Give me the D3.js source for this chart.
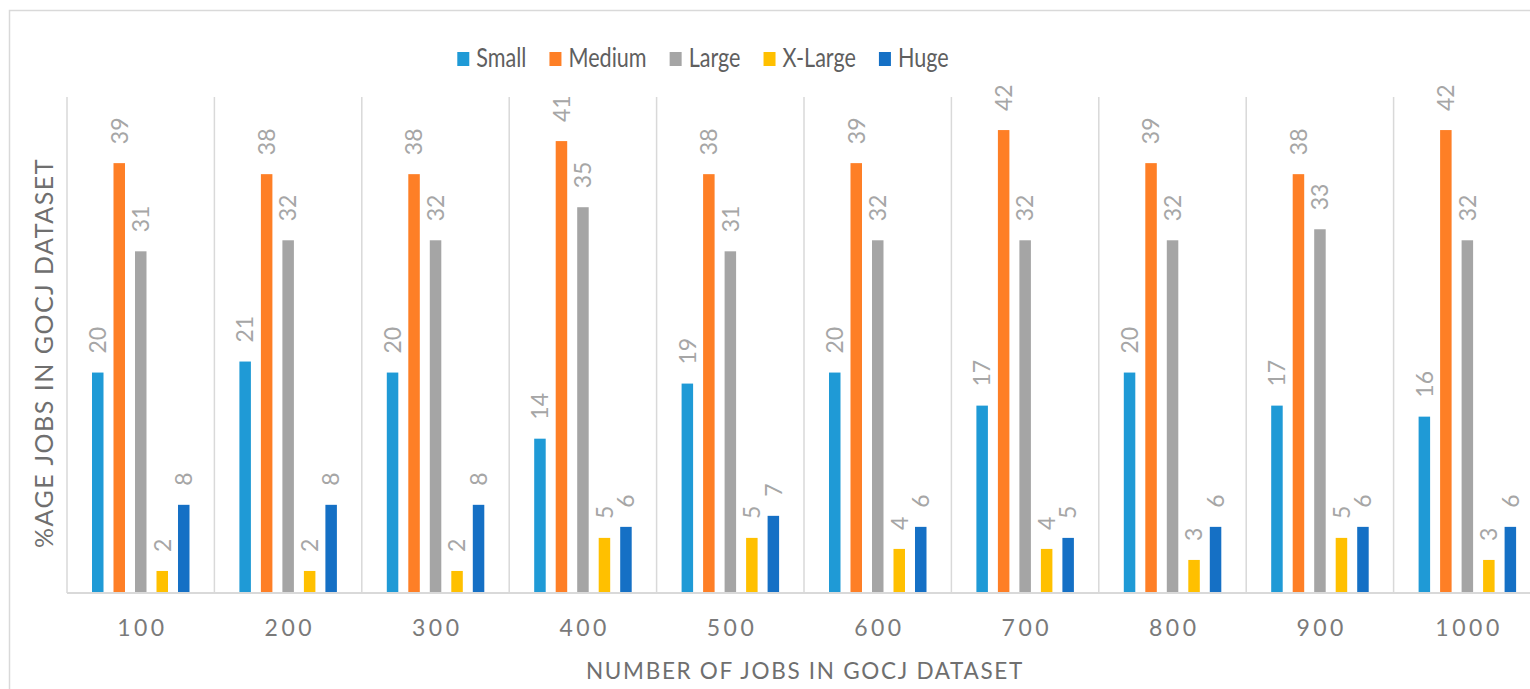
<!DOCTYPE html>
<html>
<head>
<meta charset="utf-8">
<script src="https://cdn.jsdelivr.net/npm/d3@7"></script>
<style>
  html, body { margin: 0; padding: 0; background: #ffffff; }
  svg { display: block; font-family: Lato, "Open Sans", sans-serif; }
</style>
</head>
<body>
<svg id="chart" width="1530" height="689"></svg>
<script>
// Job counts in the GOCJ dataset (x categories)
const categories = ["100", "200", "300", "400", "500", "600", "700", "800", "900", "1000"];
// Job size classes
const seriesNames = ["Small", "Medium", "Large", "X-Large", "Huge"];
const seriesColors = ["#1f9ad6", "#fe7f26", "#a5a5a5", "#ffc000", "#1570c5"];
// Percentage of jobs in each size class, one array per class
const small  = [20, 21, 20, 14, 19, 20, 17, 20, 17, 16];
const medium = [39, 38, 38, 41, 38, 39, 42, 39, 38, 42];
const large  = [31, 32, 32, 35, 31, 32, 32, 32, 33, 32];
const xlarge = [2, 2, 2, 5, 5, 4, 4, 3, 5, 3];
const huge   = [8, 8, 8, 6, 7, 6, 5, 6, 6, 6];
const seriesValues = [small, medium, large, xlarge, huge];
const yDomain = [0, 45];

const svg = d3.select("#chart");

// outer chart frame
svg.append("path")
  .attr("d", "M9.5,689 L9.5,10.5 L1530,10.5")
  .attr("fill", "none").attr("stroke", "#d9d9d9").attr("stroke-width", 1.5);

const plot = { left: 67, top: 97, bottom: 593, step: 147.4 };
plot.right = plot.left + plot.step * categories.length;

const x0 = d3.scaleBand().domain(categories).range([plot.left, plot.right]).padding(0);
const x1 = d3.scaleBand().domain(seriesNames)
  .range([25, 25 + 97.5]).paddingInner(0.465).paddingOuter(0);
const y = d3.scaleLinear().domain(yDomain).range([plot.bottom, plot.top]);

// vertical category separators
const seps = d3.range(categories.length + 1).map(i => plot.left + i * x0.step());
svg.append("g").selectAll("line").data(seps).join("line")
  .attr("x1", d => d).attr("x2", d => d)
  .attr("y1", plot.top).attr("y2", plot.bottom)
  .attr("stroke", "#d9d9d9").attr("stroke-width", 1.5);

// bars
const rows = categories.map((c, i) => ({ cat: c, vals: seriesNames.map((s, k) => ({ s, k, v: seriesValues[k][i] })) }));
const groups = svg.append("g").selectAll("g").data(rows).join("g")
  .attr("transform", d => `translate(${x0(d.cat)},0)`);

groups.selectAll("rect").data(d => d.vals).join("rect")
  .attr("x", d => x1(d.s)).attr("width", x1.bandwidth())
  .attr("y", d => y(d.v)).attr("height", d => y(0) - y(d.v))
  .attr("fill", d => seriesColors[d.k]);

// value labels, rotated above each bar
groups.selectAll("text").data(d => d.vals).join("text")
  .attr("transform", d => `translate(${x1(d.s) + x1.bandwidth() / 2},${y(d.v) - 19}) rotate(-90)`)
  .attr("dy", "0.36em")
  .attr("text-anchor", "start")
  .attr("font-size", 23)
  .attr("fill", "#a6a6a6")
  .text(d => d.v);

// baseline
svg.append("line")
  .attr("x1", plot.left).attr("x2", plot.right)
  .attr("y1", plot.bottom).attr("y2", plot.bottom)
  .attr("stroke", "#d9d9d9").attr("stroke-width", 2);

// x axis tick labels
const xAxis = d3.axisBottom(x0).tickSize(0).tickPadding(0);
const xg = svg.append("g").attr("transform", `translate(0,${plot.bottom})`).call(xAxis);
xg.select(".domain").remove();
xg.selectAll("text")
  .attr("y", 43).attr("dy", 0)
  .attr("font-family", "Lato, sans-serif")
  .attr("font-size", 23)
  .attr("letter-spacing", "3.5px")
  .attr("dx", "1.75px")
  .attr("fill", "#7a7a7a");

// axis titles
svg.append("text")
  .attr("x", 805).attr("y", 679)
  .attr("text-anchor", "middle")
  .attr("font-size", 22.5)
  .attr("letter-spacing", "1.7px")
  .attr("fill", "#6f6f6f")
  .text("NUMBER OF JOBS IN GOCJ DATASET");

svg.append("text")
  .attr("transform", "translate(53,353) rotate(-90)")
  .attr("text-anchor", "middle")
  .attr("font-size", 25)
  .attr("letter-spacing", "1.5px")
  .attr("fill", "#6f6f6f")
  .text("%AGE JOBS IN GOCJ DATASET");

// legend: narrow the lettering horizontally for a condensed look
const legend = svg.append("g");
const squeeze = 0.8;
let cursor = 0;
seriesNames.forEach((name, k) => {
  const item = legend.append("g").attr("transform", `translate(${cursor},0)`);
  item.append("rect").attr("x", 0).attr("y", 52).attr("width", 12).attr("height", 14)
    .attr("fill", seriesColors[k]);
  const t = item.append("text")
    .attr("transform", `translate(19,66.5) scale(${squeeze},1)`)
    .attr("font-size", 27).attr("fill", "#5f5f5f").text(name);
  cursor += 19 + t.node().getComputedTextLength() * squeeze + 23;
});
const legendWidth = cursor - 23;
legend.attr("transform", `translate(${703 - legendWidth / 2},0)`);
</script>
</body>
</html>
